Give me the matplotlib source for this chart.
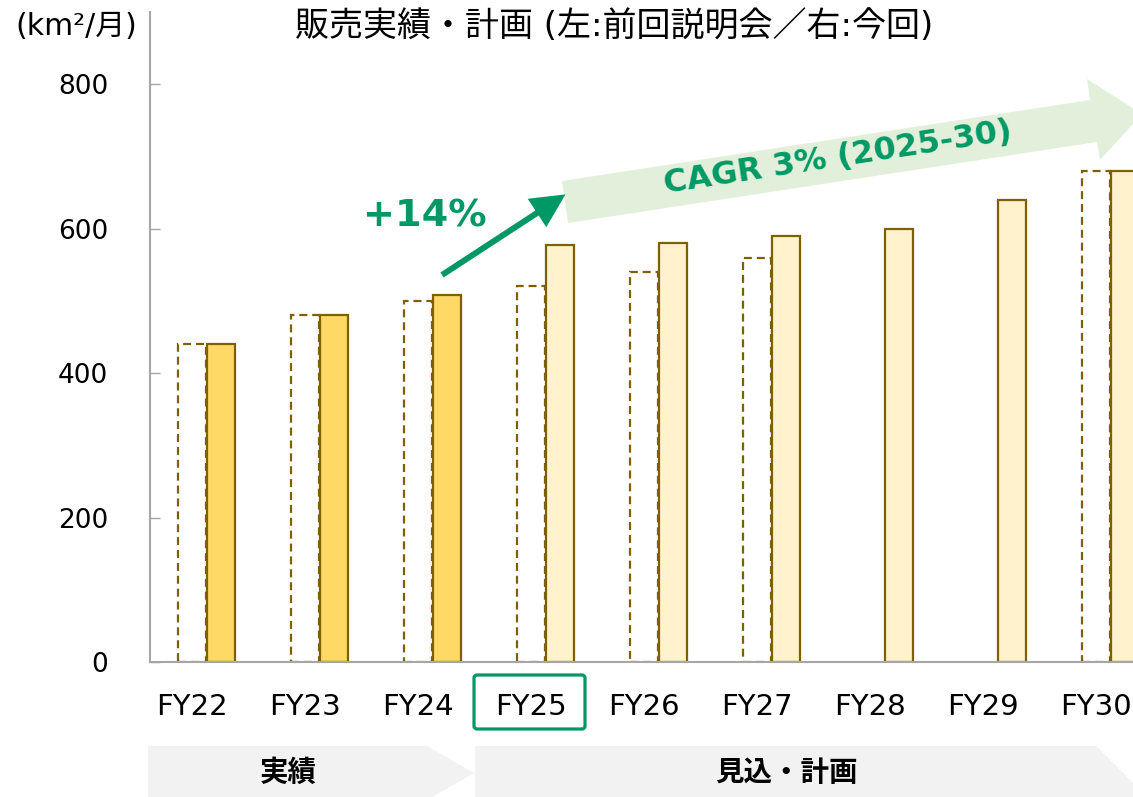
import numpy as np
import matplotlib
matplotlib.use('Agg')
import matplotlib.pyplot as plt
from matplotlib.patches import Polygon, FancyBboxPatch, FancyArrow

plt.rcParams['font.family'] = ['DejaVu Sans', 'Noto Sans CJK JP']

# Data
fiscal_years = ['FY22', 'FY23', 'FY24', 'FY25', 'FY26', 'FY27', 'FY28', 'FY29', 'FY30']
prev_plan = [440, 480, 500, 520, 540, 560, np.nan, np.nan, 680]   # left bars: previous briefing
current = [440, 480, 508, 578, 580, 590, 600, 640, 680]            # right bars: this time
n_actual = 3                                                       # FY22-FY24 are actuals
y_ticks = [0, 200, 400, 600, 800]

EDGE = '#7F6000'
ACTUAL = '#FFD966'
PLAN = '#FFF2CC'
GREEN = '#009966'
W, H = 1133, 797

fig = plt.figure(figsize=(W / 100, H / 100), dpi=100)
ax = fig.add_axes([150 / W, (H - 662) / H, (W - 150) / W, (662 - 12) / H])

x = np.arange(len(fiscal_years))
prev = np.array(prev_plan, dtype=float)
has_prev = ~np.isnan(prev)
bw = 0.25

ax.bar(x[has_prev], prev[has_prev], width=bw, color='white', edgecolor=EDGE,
       linewidth=1.6, linestyle=(0, (3.6, 2.2)), zorder=2)
colors = [ACTUAL if i < n_actual else PLAN for i in range(len(x))]
ax.bar(x + 0.255, current, width=bw, color=colors, edgecolor=EDGE,
       linewidth=1.6, zorder=3)

ax.set_xlim(-0.372, 8.327)
ax.set_ylim(0, 900)
ax.set_yticks(y_ticks)
ax.set_xticks(x)
ax.set_xticklabels(fiscal_years)
ax.tick_params(axis='y', direction='in', length=7, width=1, color='#A6A6A6',
               labelsize=19, pad=30)
ax.tick_params(axis='x', length=0, labelsize=21, pad=22)
for s in ['top', 'right']:
    ax.spines[s].set_visible(False)
for s in ['left', 'bottom']:
    ax.spines[s].set_color('#A6A6A6')
    ax.spines[s].set_linewidth(1.5)
    ax.spines[s].set_zorder(4)

# overlay in pixel coordinates for annotations
ov = fig.add_axes([0, 0, 1, 1], zorder=5)
ov.set_xlim(0, W)
ov.set_ylim(H, 0)
ov.axis('off')
ov.patch.set_alpha(0)

ov.text(614, 26, '販売実績・計画 (左:前回説明会／右:今回)', ha='center', va='center',
        fontsize=24.5)
ov.text(137, 26, '(km²/月)', ha='right', va='center', fontsize=21.5)

# CAGR band arrow
band = [(562, 181), (1090, 100), (1087, 79), (1142, 114), (1100, 160),
        (1097, 142), (568, 223)]
ov.add_patch(Polygon(band, closed=True, facecolor='#E2EFDA', edgecolor='none'))
ov.text(838, 158, 'CAGR 3% (2025-30)', ha='center', va='center', rotation=8.7,
        rotation_mode='anchor', fontsize=23, fontweight='bold', color=GREEN)

# +14% arrow
ov.add_patch(FancyArrow(442, 275, 95, -62, width=6, head_width=34, head_length=34,
                        length_includes_head=False, color=GREEN, linewidth=0))
ov.text(425, 216, '+14%', ha='center', va='center', fontsize=27.5,
        fontweight='bold', color=GREEN)

# FY25 highlight box
ov.add_patch(FancyBboxPatch((474, 675), 111, 54, boxstyle='round,pad=0,rounding_size=3',
                            facecolor='none', edgecolor=GREEN, linewidth=2.3))

# bottom phase bands
ov.add_patch(Polygon([(148, 746), (427, 746), (474, 773), (427, 800), (148, 800)],
                     closed=True, facecolor='#F2F2F2', edgecolor='none'))
ov.add_patch(Polygon([(475, 746), (1096, 746), (1150, 800), (475, 800)],
                     closed=True, facecolor='#F2F2F2', edgecolor='none'))
ov.text(288, 773, '実績', ha='center', va='center', fontsize=20.5, fontweight='bold')
ov.text(786, 773, '見込・計画', ha='center', va='center', fontsize=20.5, fontweight='bold')

fig.savefig('out.png', dpi=100)
